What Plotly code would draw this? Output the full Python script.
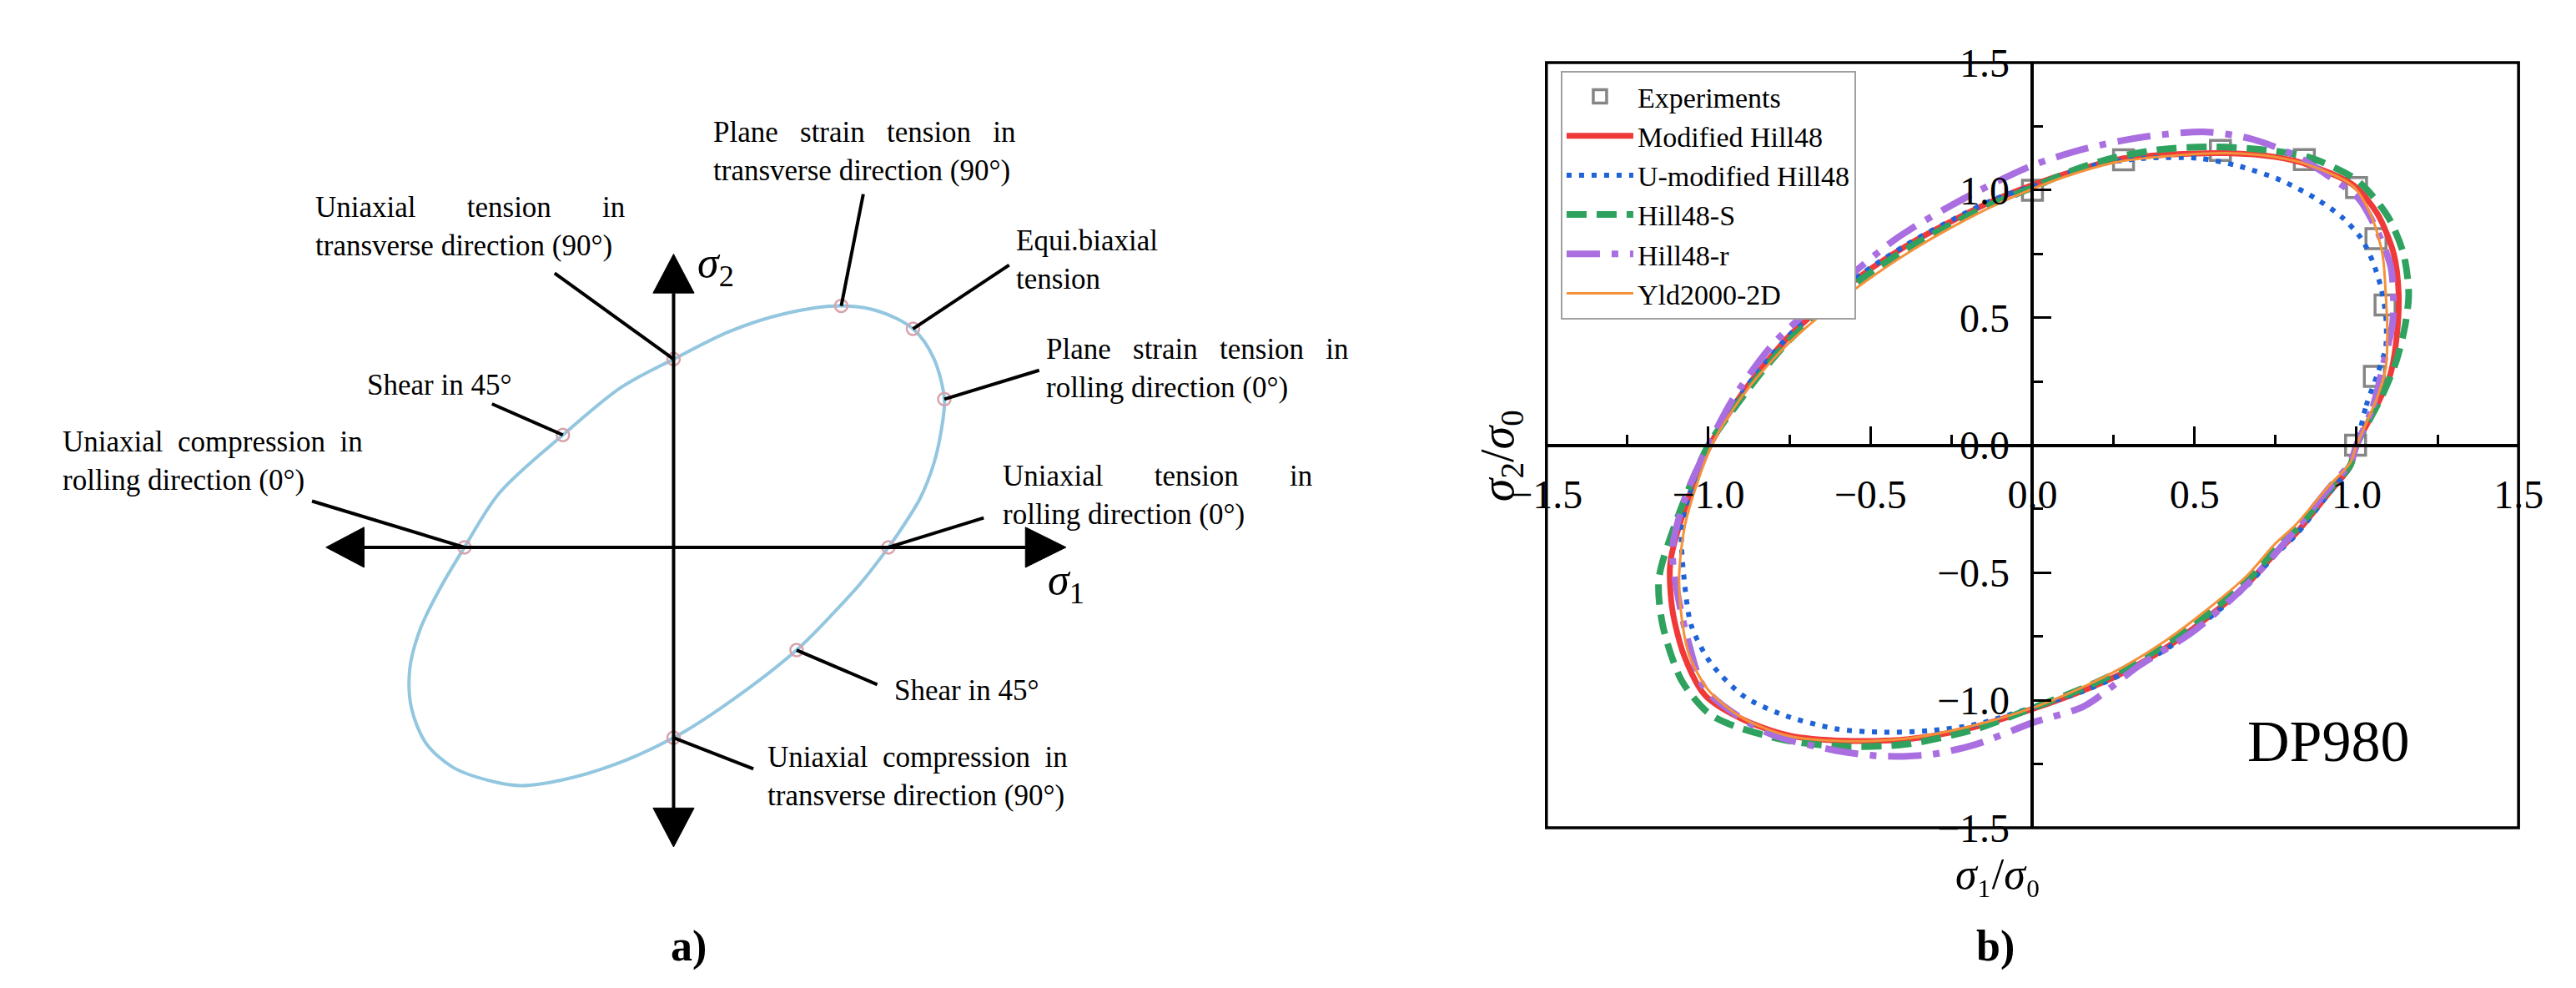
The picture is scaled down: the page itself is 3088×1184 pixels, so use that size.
import plotly.graph_objects as go

SERIF = "Liberation Serif"

# ---------------- panel a) : schematic yield locus ----------------
# locus outline (sigma1, sigma2)
ellipse_s1 = [1.015, 1.088, 1.164, 1.228, 1.265, 1.279, 1.228, 1.131, 0.972, 0.792, 0.523,
              0.265, 0.0, -0.246, -0.523, -0.823, -0.988, -1.104, -1.196, -1.246, -1.238,
              -1.169, -1.042, -0.85, -0.719, -0.527, -0.273, 0.0, 0.254, 0.581, 0.767,
              0.881, 1.015]
ellipse_s2 = [0.0, 0.108, 0.235, 0.4, 0.568, 0.715, 0.914, 1.054, 1.138, 1.165, 1.127,
              1.042, 0.908, 0.773, 0.542, 0.262, 0.0, -0.2, -0.392, -0.585, -0.777,
              -0.946, -1.062, -1.131, -1.15, -1.123, -1.046, -0.919, -0.754, -0.496, -0.304,
              -0.177, 0.0]

# stress states marked on the locus
state_s1 = [0.792, 0.0, 1.131, 1.279, -0.523, -0.988, 1.015, 0.581, 0.0]
state_s2 = [1.165, 0.908, 1.054, 0.715, 0.542, 0.0, 0.0, -0.496, -0.919]
# far end of each leader line (next to its label)
leader_s1 = [0.896, -0.562, 1.585, 1.727, -0.858, -1.708, 1.465, 0.962, 0.377]
leader_s2 = [1.704, 1.323, 1.362, 0.854, 0.692, 0.223, 0.142, -0.662, -1.069]

NB = "\u00a0"
state_labels = [
    "Plane" + NB * 2 + " strain" + NB * 2 + " tension" + NB * 2 + " in<br>transverse direction (90°)",
    "Uniaxial" + NB * 6 + " tension" + NB * 6 + " in<br>transverse direction (90°)",
    "Equi.biaxial<br>tension",
    "Plane" + NB * 2 + " strain" + NB * 2 + " tension" + NB * 2 + " in<br>rolling direction (0°)",
    "Shear in 45°",
    "Uniaxial" + NB + " compression" + NB + " in<br>rolling direction (0°)",
    "Uniaxial" + NB * 6 + " tension" + NB * 6 + " in<br>rolling direction (0°)",
    "Shear in 45°",
    "Uniaxial" + NB + " compression" + NB + " in<br>transverse direction (90°)",
]
label_s1 = [0.181, -1.700, 1.608, 1.750, -1.454, -2.896, 1.546, 1.035, 0.435]
label_s2 = [1.910, 1.546, 1.387, 0.865, 0.781, 0.415, 0.250, -0.692, -1.104]

# axis arrows of the sketch
h_line = (-1.462, 1.662)
h_tips = (-1.642, 1.854)
v_line = (-1.258, 1.227)
v_tips = (-1.446, 1.415)
head_half = 0.097

# ---------------- panel b) : DP980 yield loci ----------------
exp_s1 = [0.0, 0.281, 0.58, 0.839, 1.0, 1.06, 1.088, 1.055, 0.997]
exp_s2 = [1.0, 1.119, 1.156, 1.12, 1.01, 0.81, 0.55, 0.27, 0.0]

mh48_s1 = [1.0, 1.07, 1.105, 1.125, 1.13, 1.115, 1.065, 0.99, 0.85, 0.75, 0.6, 0.43, 0.26, 0.13,
           0.0, -0.126, -0.241, -0.377, -0.518, -0.643, -0.744, -0.837, -0.894, -0.995, -1.083,
           -1.118, -1.111, -1.075, -1.01, -0.894, -0.751, -0.578, -0.389, -0.201, 0.0, 0.161,
           0.286, 0.412, 0.538, 0.663, 0.746, 0.814, 0.914, 0.98, 1.0]
mh48_s2 = [0.0, 0.175, 0.281, 0.438, 0.594, 0.75, 0.906, 1.02, 1.10, 1.13, 1.145, 1.14, 1.12, 1.075,
           1.02, 0.956, 0.884, 0.791, 0.675, 0.55, 0.437, 0.3, 0.206, 0.0, -0.287,
           -0.466, -0.647, -0.825, -0.981, -1.075, -1.138, -1.159, -1.153, -1.112, -1.034, -0.959,
           -0.888, -0.794, -0.678, -0.544, -0.428, -0.344, -0.188, -0.084, 0.0]

umh48_s1 = [1.0, 1.03, 1.065, 1.09, 1.09, 1.075, 1.05, 1.015, 0.955, 0.872, 0.764, 0.638, 0.513,
            0.344, 0.176, 0.01, -0.126, -0.241, -0.377, -0.518, -0.643, -0.744, -0.837, -0.894,
            -0.995, -1.06, -1.083, -1.075, -1.053, -0.995, -0.894, -0.779, -0.606, -0.462, -0.317,
            -0.173, 0.0, 0.161, 0.286, 0.412, 0.538, 0.663, 0.746, 0.814, 0.914, 0.98, 1.0]
umh48_s2 = [0.0, 0.156, 0.281, 0.384, 0.51, 0.62, 0.72, 0.81, 0.894, 0.969, 1.04, 1.094, 1.125,
            1.125, 1.094, 1.02, 0.96, 0.888, 0.795, 0.68, 0.555, 0.44, 0.303, 0.208,
            0.0, -0.2, -0.347, -0.525, -0.706, -0.85, -0.981, -1.053, -1.112, -1.125, -1.119,
            -1.094, -1.028, -0.962, -0.892, -0.8, -0.685, -0.55, -0.434, -0.35, -0.19, -0.085, 0.0]

h48s_s1 = [1.0, 1.08, 1.123, 1.15, 1.161, 1.145, 1.095, 1.0, 0.85, 0.7, 0.55, 0.4, 0.26, 0.13,
           0.0, -0.126, -0.241, -0.377, -0.518, -0.643, -0.744, -0.837, -0.894, -1.0, -1.1,
           -1.153, -1.141, -1.083, -1.0, -0.922, -0.751, -0.578, -0.389, -0.173, 0.0, 0.161,
           0.286, 0.412, 0.538, 0.663, 0.746, 0.814, 0.914, 0.98, 1.0]
h48s_s2 = [0.0, 0.197, 0.331, 0.47, 0.594, 0.75, 0.9, 1.04, 1.13, 1.16, 1.17, 1.16, 1.13, 1.08,
           1.01, 0.945, 0.872, 0.778, 0.66, 0.535, 0.42, 0.285, 0.19, 0.0, -0.3,
           -0.525, -0.706, -0.922, -1.05, -1.1, -1.159, -1.181, -1.172, -1.112, -1.03, -0.95,
           -0.875, -0.78, -0.665, -0.53, -0.415, -0.33, -0.178, -0.08, 0.0]

h48r_s1 = [1.0, 1.05, 1.085, 1.112, 1.106, 1.06, 1.005, 0.92, 0.814, 0.678, 0.538, 0.35, 0.17,
           0.0, -0.209, -0.417, -0.628, -0.794, -0.92, -1.0, -1.07, -1.111, -1.095, -1.06,
           -1.01, -0.822, -0.606, -0.462, -0.317, -0.173, 0.0, 0.161, 0.327, 0.495, 0.663,
           0.789, 0.914, 0.98, 1.0]
h48r_s2 = [0.0, 0.15, 0.33, 0.488, 0.697, 0.85, 0.969, 1.05, 1.134, 1.2, 1.228, 1.21, 1.165,
           1.097, 0.969, 0.813, 0.594, 0.406, 0.19, 0.0, -0.2, -0.406, -0.584, -0.78,
           -0.956, -1.125, -1.197, -1.219, -1.213, -1.172, -1.088, -1.022, -0.866, -0.731, -0.544,
           -0.366, -0.169, -0.07, 0.0]

yld_s1 = [1.0, 1.06, 1.09, 1.095, 1.09, 1.08, 1.045, 0.99, 0.85, 0.75, 0.6, 0.43, 0.26, 0.13,
          0.0, -0.126, -0.241, -0.377, -0.518, -0.643, -0.744, -0.837, -0.894, -0.99, -1.07,
          -1.09, -1.085, -1.06, -1.0, -0.894, -0.751, -0.578, -0.389, -0.201, 0.0, 0.161,
          0.286, 0.412, 0.538, 0.663, 0.746, 0.814, 0.914, 0.98, 1.0]
yld_s2 = [0.0, 0.175, 0.3, 0.438, 0.594, 0.75, 0.9, 1.015, 1.10, 1.13, 1.145, 1.135, 1.11, 1.065,
          1.005, 0.935, 0.86, 0.76, 0.64, 0.52, 0.41, 0.285, 0.195, 0.0, -0.3,
          -0.5, -0.65, -0.82, -0.96, -1.07, -1.14, -1.16, -1.15, -1.105, -1.03, -0.945,
          -0.865, -0.765, -0.645, -0.51, -0.39, -0.31, -0.16, -0.07, 0.0]

models = [
    ("Modified Hill48", mh48_s1, mh48_s2, dict(color="#f03a3a", width=7)),
    ("U-modified Hill48", umh48_s1, umh48_s2, dict(color="#1f63d8", width=6, dash="6px,9px")),
    ("Hill48-S", h48s_s1, h48s_s2, dict(color="#2ea25e", width=8, dash="24px,12px")),
    ("Hill48-r", h48r_s1, h48r_s2, dict(color="#a96ee0", width=8, dash="40px,14px,8px,14px")),
    ("Yld2000-2D", yld_s1, yld_s2, dict(color="#f5913a", width=3)),
]

fig = go.Figure()

# panel a traces
fig.add_trace(go.Scatter(x=ellipse_s1, y=ellipse_s2, mode="lines", xaxis="x", yaxis="y",
                         line=dict(color="#93c6df", width=4, shape="spline", smoothing=0.9),
                         showlegend=False, hoverinfo="skip"))
fig.add_trace(go.Scatter(x=state_s1, y=state_s2, mode="markers", xaxis="x", yaxis="y",
                         marker=dict(symbol="circle-open", size=15, color="#d7a3ab",
                                     line=dict(width=2.5)),
                         showlegend=False, hoverinfo="skip"))

for x0, y0, x1, y1 in zip(leader_s1, leader_s2, state_s1, state_s2):
    fig.add_shape(type="line", xref="x", yref="y", x0=x0, y0=y0, x1=x1, y1=y1,
                  line=dict(color="black", width=4))

for txt, lx, ly in zip(state_labels, label_s1, label_s2):
    fig.add_annotation(xref="x", yref="y", x=lx, y=ly, text=txt, showarrow=False,
                       xanchor="left", yanchor="middle", align="left",
                       font=dict(family=SERIF, size=35, color="black"))

# arrows
fig.add_shape(type="line", xref="x", yref="y", x0=h_line[0], y0=0, x1=h_line[1], y1=0,
              line=dict(color="black", width=4))
fig.add_shape(type="line", xref="x", yref="y", x0=0, y0=v_line[0], x1=0, y1=v_line[1],
              line=dict(color="black", width=4))
heads = [
    f"M {h_tips[0]},0 L {h_line[0]},{head_half} L {h_line[0]},{-head_half} Z",
    f"M {h_tips[1]},0 L {h_line[1]},{head_half} L {h_line[1]},{-head_half} Z",
    f"M 0,{v_tips[0]} L {head_half},{v_line[0]} L {-head_half},{v_line[0]} Z",
    f"M 0,{v_tips[1]} L {head_half},{v_line[1]} L {-head_half},{v_line[1]} Z",
]
for p in heads:
    fig.add_shape(type="path", xref="x", yref="y", path=p, fillcolor="black",
                  line=dict(color="black", width=1))

fig.add_annotation(xref="x", yref="y", x=h_tips[1], y=-0.17, text="<i>σ</i><sub>1</sub>",
                   showarrow=False, font=dict(family=SERIF, size=52, color="black"))
fig.add_annotation(xref="x", yref="y", x=0.2, y=1.36, text="<i>σ</i><sub>2</sub>",
                   showarrow=False, font=dict(family=SERIF, size=52, color="black"))

# panel b traces
fig.add_trace(go.Scatter(x=exp_s1, y=exp_s2, mode="markers", name="Experiments",
                         xaxis="x2", yaxis="y2",
                         marker=dict(symbol="square-open", size=24, color="#858585",
                                     line=dict(width=3.5))))
for name, xs, ys, ln in models:
    fig.add_trace(go.Scatter(x=xs, y=ys, mode="lines", name=name, xaxis="x2", yaxis="y2",
                             line=dict(shape="spline", smoothing=0.8, **ln)))

# frame of panel b
fig.add_shape(type="rect", xref="x2 domain", yref="y2 domain", x0=0, x1=1, y0=0, y1=1,
              line=dict(color="black", width=3.5), layer="below")

axis_common = dict(range=[-1.5, 1.5], anchor="free", showline=True, linecolor="black",
                   linewidth=3.5, ticks="inside", ticklen=21, tickwidth=3, tickcolor="black",
                   tick0=0, dtick=0.5, tickformat=".1f", showgrid=False, zeroline=False,
                   minor=dict(dtick=0.25, ticks="inside", ticklen=11, tickwidth=3,
                              tickcolor="black", showgrid=False),
                   tickfont=dict(family=SERIF, size=48, color="black"),
                   ticklabelstandoff=16)

fig.update_layout(
    width=3088, height=1184,
    margin=dict(l=0, r=0, t=0, b=0),
    paper_bgcolor="white", plot_bgcolor="rgba(0,0,0,0)",
    xaxis=dict(domain=[0, 1300 / 3088], range=[-2.977, 2.023], visible=False),
    yaxis=dict(domain=[0, 1], range=[-2.05, 2.504], visible=False),
    xaxis2=dict(domain=[1846 / 3088, 3040 / 3088], position=0.5583, **axis_common),
    yaxis2=dict(domain=[0.1529, 0.9637], position=0.7911, **axis_common),
    legend=dict(x=0.6035, y=0.955, xanchor="left", yanchor="top", bgcolor="white",
                bordercolor="#a0a0a0", borderwidth=2, itemwidth=80, tracegroupgap=0,
                font=dict(family=SERIF, size=34, color="black")),
)

fig.add_annotation(xref="paper", yref="paper", x=0.5797, y=0.5473,
                   text="<i>σ</i><sub>2</sub>/<i>σ</i><sub>0</sub>", textangle=-90,
                   showarrow=False, font=dict(family=SERIF, size=56, color="black"))
# sigma1/sigma0 title under the lower frame edge (unicode subscripts keep the box short)
fig.add_annotation(xref="paper", yref="paper", x=0.795, y=0.104, yanchor="middle",
                   text="<i>σ</i>₁/<i>σ</i>₀",
                   showarrow=False, font=dict(family=SERIF, size=52, color="black"))
fig.add_annotation(xref="paper", yref="paper", x=0.9417, y=0.2086, text="DP980",
                   showarrow=False, font=dict(family=SERIF, size=70, color="black"))
fig.add_annotation(xref="paper", yref="paper", x=0.249, y=0.0, yanchor="bottom",
                   text="<b>a)</b>",
                   showarrow=False, font=dict(family=SERIF, size=52, color="black"))
fig.add_annotation(xref="paper", yref="paper", x=0.7847, y=0.0, yanchor="bottom",
                   text="<b>b)</b>",
                   showarrow=False, font=dict(family=SERIF, size=52, color="black"))

fig.write_html("out.html")
